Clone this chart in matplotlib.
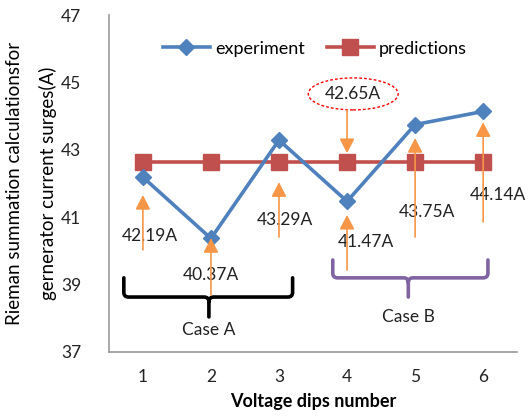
import matplotlib
matplotlib.use("Agg")
import matplotlib.pyplot as plt
from matplotlib.path import Path
from matplotlib.patches import PathPatch, Ellipse

plt.rcParams['font.family'] = ['Lato', 'DejaVu Sans']

dips = [1, 2, 3, 4, 5, 6]
experiment = [42.19, 40.37, 43.29, 41.47, 43.75, 44.14]
predictions = [42.65, 42.65, 42.65, 42.65, 42.65, 42.65]
yticks = [37, 39, 41, 43, 45, 47]

exp_labels = ["42.19A", "40.37A", "43.29A", "41.47A", "43.75A", "44.14A"]
pred_label = "42.65A"

fig = plt.figure(figsize=(5.31, 4.19), dpi=100)
ax = fig.add_axes([0.205, 0.160, 0.769, 0.804])

ax.plot(dips, experiment, color='#4F81BD', lw=2.6, marker='D', markersize=8,
        label='experiment', zorder=4)
ax.plot(dips, predictions, color='#C0504D', lw=2.6, marker='s', markersize=11,
        label='predictions', zorder=3)

ax.set_xlim(0.5, 6.5)
ax.set_ylim(37, 47)
ax.set_xticks(dips)
ax.set_yticks(yticks)
ax.tick_params(length=0, labelsize=12.5, colors='#222222', pad=12)
ax.tick_params(axis='y', pad=20)
for s in ['top', 'right']:
    ax.spines[s].set_visible(False)
for s in ['left', 'bottom']:
    ax.spines[s].set_color('#9a9a9a')
    ax.spines[s].set_linewidth(1.2)

ax.set_xlabel('Voltage dips number', fontsize=13, fontweight='bold', labelpad=6)
ax.set_ylabel('Rieman summation calculationsfor\ngernerator current surges(A)',
              fontsize=13.5, linespacing=2.0)
ax.yaxis.set_label_coords(-0.128, 0.5)

leg = ax.legend(loc='center', bbox_to_anchor=(0.505, 0.90), ncol=2, frameon=False,
                fontsize=13, handlelength=2.6, columnspacing=1.2, handletextpad=0.3)

orange = '#F79646'
aprops = dict(arrowstyle='-|>,head_length=0.58,head_width=0.3', color=orange,
              lw=1.2, mutation_scale=15, shrinkA=0, shrinkB=0)

# (tail_y, tip_y, label_x, label_y) for each experiment value
arrow_tails = [40.03, 38.69, 40.41, 39.43, 40.41, 40.86]
arrow_tips = [41.66, 40.38, 42.04, 41.07, 43.35, 43.82]
label_x = [1.1, 2.0, 3.09, 4.27, 5.18, 6.22]
label_y = [40.45, 39.28, 40.92, 40.26, 41.15, 41.66]

for i, x in enumerate(dips):
    ax.text(label_x[i], label_y[i], exp_labels[i], ha='center', va='center',
            fontsize=12.5, color='#222222', zorder=5)
    ax.annotate('', xy=(x, arrow_tips[i]), xytext=(x, arrow_tails[i]),
                arrowprops=aprops, zorder=6)

# predictions callout
ax.annotate('', xy=(4, 42.9), xytext=(4, 44.18), arrowprops=aprops, zorder=6)
ax.text(4.09, 44.66, pred_label, ha='center', va='center', fontsize=12.5,
        color='#222222', zorder=5)
ax.add_patch(Ellipse((4.09, 44.66), 1.32, 0.95, fill=False, edgecolor='red',
                     linestyle=(0, (2, 1.5)), lw=1.0, zorder=5))


def brace(x0, x1, xm, ytop, ymid, ybot, color):
    rx, ry = 0.07, 0.14
    verts = [(x0, ytop), (x0, ymid + ry), (x0, ymid), (x0 + rx, ymid),
             (xm - rx, ymid), (xm, ymid), (xm, ymid - ry), (xm, ybot),
             (x1, ytop), (x1, ymid + ry), (x1, ymid), (x1 - rx, ymid),
             (xm + rx, ymid), (xm, ymid), (xm, ymid - ry)]
    codes = [Path.MOVETO, Path.LINETO, Path.CURVE3, Path.CURVE3,
             Path.LINETO, Path.CURVE3, Path.CURVE3, Path.LINETO,
             Path.MOVETO, Path.LINETO, Path.CURVE3, Path.CURVE3,
             Path.LINETO, Path.CURVE3, Path.CURVE3]
    ax.add_patch(PathPatch(Path(verts, codes), fill=False, edgecolor=color,
                           lw=2.6, capstyle='round', joinstyle='round', zorder=4))


brace(0.72, 3.2, 1.97, 39.2, 38.63, 38.04, 'black')
brace(3.79, 6.07, 4.9, 39.73, 39.2, 38.63, '#8064A2')

ax.text(1.97, 37.65, 'Case A', ha='center', va='center', fontsize=12.5, color='#222222')
ax.text(4.9, 38.04, 'Case B', ha='center', va='center', fontsize=12.5, color='#222222')

fig.savefig('out.png', dpi=100)
